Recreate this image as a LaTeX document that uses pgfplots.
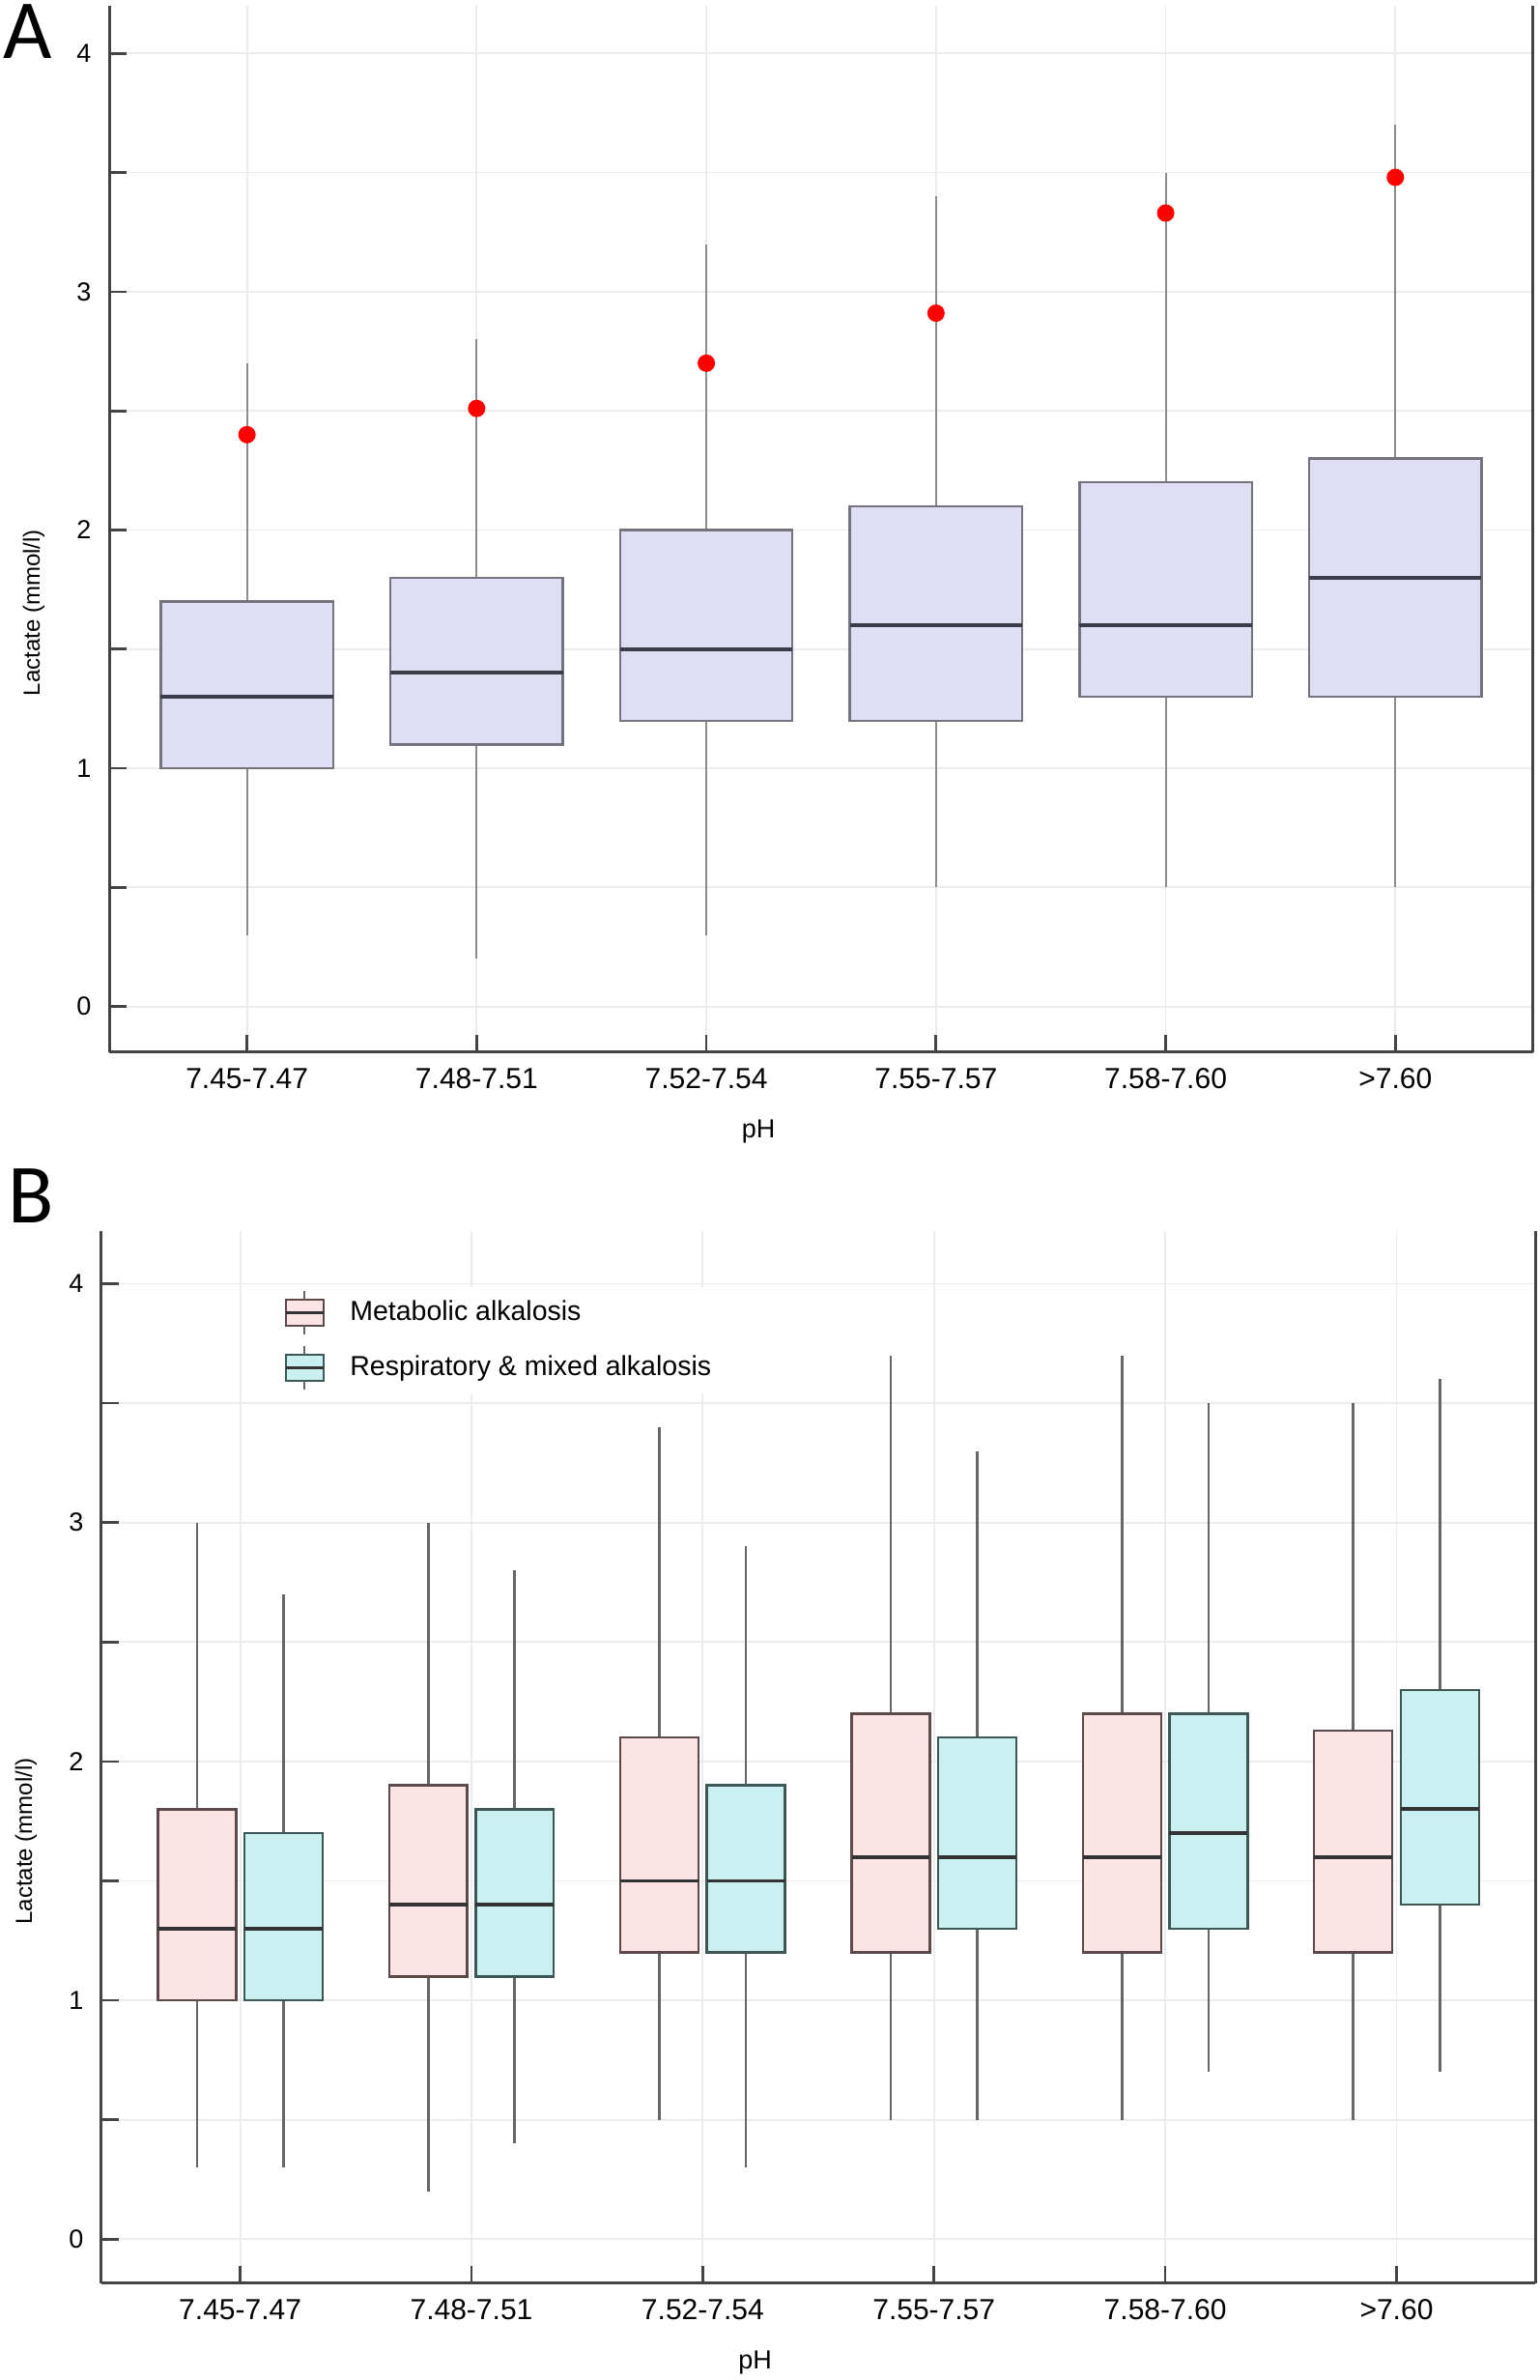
\documentclass[border=0pt]{standalone}
\usepackage{fontspec}
\setmainfont{Liberation Sans}
\newfontfamily\letterfont{Carlito}
\usepackage{pgfplots}
\pgfplotsset{compat=1.18}
\usepgfplotslibrary{statistics}

\definecolor{gridc}{HTML}{ECECEC}
\definecolor{axisc}{HTML}{444444}
\definecolor{lav}{HTML}{E0DEF5}
\definecolor{lavedge}{HTML}{74747E}
\definecolor{whiskA}{HTML}{8C8C8C}
\definecolor{medA}{HTML}{3C3C48}
\definecolor{pinkf}{HTML}{FDE4E4}
\definecolor{pinke}{HTML}{5C4A4A}
\definecolor{cyanf}{HTML}{CBF0F1}
\definecolor{cyane}{HTML}{3D5656}
\definecolor{whiskB}{HTML}{666666}
\definecolor{medB}{HTML}{333333}

\pgfplotsset{
  lacaxis/.style={
    scale only axis,
    xmin=-0.6, xmax=5.6,
    axis x line*=bottom,
    axis y line*=left,
    axis line style={draw=axisc, line width=1pt},
    xtick={0,1,2,3,4,5},
    xticklabels={7.45-7.47,7.48-7.51,7.52-7.54,7.55-7.57,7.58-7.60,>7.60},
    ytick={0,1,2,3,4},
    minor ytick={0.5,1.5,2.5,3.5},
    tick align=inside,
    major tick length=6pt,
    minor tick length=6pt,
    every tick/.style={draw=axisc, line width=0.9pt},
    grid=both,
    major grid style={draw=gridc, line width=0.6pt},
    minor grid style={draw=gridc, line width=0.6pt},
    /pgf/number format/assume math mode=true,
    xticklabel style={font=\fontsize{10}{12}\selectfont, anchor=base, yshift=-12.6pt, inner sep=0pt},
    yticklabel style={font=\fontsize{9}{10}\selectfont, anchor=east, inner sep=0pt, xshift=-6pt},
    xlabel={pH},
    ylabel={Lactate (mmol/l)},
    xlabel style={font=\fontsize{9}{10}\selectfont, at={(axis description cs:0.456,0)}, anchor=base, yshift=-29.5pt},
    ylabel style={font=\fontsize{8}{10}\selectfont, at={(axis description cs:0,0.42)}, anchor=center, yshift=26pt},
    clip=false,
  },
  boxA/.style={
    forget plot, fill=lav, draw=lavedge, line width=0.8pt,
    boxplot/draw direction=y,
    boxplot/box extend=0.75, boxplot/whisker extend=0,
    boxplot/every whisker/.style={draw=whiskA, line width=0.7pt},
    boxplot/every median/.style={draw=medA, line width=1.3pt},
  },
  boxM/.style={
    forget plot, fill=pinkf, draw=pinke, line width=0.8pt,
    boxplot/draw direction=y,
    boxplot/box extend=0.338, boxplot/whisker extend=0,
    boxplot/every whisker/.style={draw=whiskB, line width=0.9pt},
    boxplot/every median/.style={draw=medB, line width=1.3pt},
  },
  boxR/.style={
    forget plot, fill=cyanf, draw=cyane, line width=0.8pt,
    boxplot/draw direction=y,
    boxplot/box extend=0.338, boxplot/whisker extend=0,
    boxplot/every whisker/.style={draw=whiskB, line width=0.9pt},
    boxplot/every median/.style={draw=medB, line width=1.3pt},
  },
}

\begin{document}
\begin{tikzpicture}
\path[use as bounding box] (0,0) rectangle (531.33pt,821pt);

% ---------- panel A ----------
\begin{axis}[lacaxis,
  at={(37.67pt,458pt)}, anchor=south west,
  width=491.3pt, height=361pt,
  ymin=-0.192, ymax=4.2,
  after end axis/.code={\draw[axisc, line width=1pt] (rel axis cs:1,0) -- (rel axis cs:1,1);},
]
\addplot[boxA, boxplot prepared={draw position=0, lower whisker=0.3, lower quartile=1.0, median=1.3, upper quartile=1.7, upper whisker=2.7}] coordinates {};
\addplot[boxA, boxplot prepared={draw position=1, lower whisker=0.2, lower quartile=1.1, median=1.4, upper quartile=1.8, upper whisker=2.8}] coordinates {};
\addplot[boxA, boxplot prepared={draw position=2, lower whisker=0.3, lower quartile=1.2, median=1.5, upper quartile=2.0, upper whisker=3.2}] coordinates {};
\addplot[boxA, boxplot prepared={draw position=3, lower whisker=0.5, lower quartile=1.2, median=1.6, upper quartile=2.1, upper whisker=3.4}] coordinates {};
\addplot[boxA, boxplot prepared={draw position=4, lower whisker=0.5, lower quartile=1.3, median=1.6, upper quartile=2.2, upper whisker=3.5}] coordinates {};
\addplot[boxA, boxplot prepared={draw position=5, lower whisker=0.5, lower quartile=1.3, median=1.8, upper quartile=2.3, upper whisker=3.7}] coordinates {};
% red points
\addplot[only marks, mark=*, mark size=2.8pt, color=red, forget plot] coordinates {
  (0,2.40) (1,2.51) (2,2.70) (3,2.91) (4,3.33) (5,3.48)
};
\end{axis}

% ---------- panel B ----------
\begin{axis}[lacaxis,
  at={(35pt,33.4pt)}, anchor=south west,
  width=494.7pt, height=362.9pt,
  ymin=-0.184, ymax=4.22,
  after end axis/.code={\draw[axisc, line width=1pt] (rel axis cs:1,0) -- (rel axis cs:1,1);},
  legend cell align=left,
  legend style={at={(axis description cs:0.125,1)}, anchor=north west, yshift=-19pt,
    draw=none, fill=white, inner sep=1pt,
    font=\fontsize{9.5}{11}\selectfont, row sep=3.3pt},
]
\addlegendimage{legend image code/.code={
  \draw[fill=pinkf, draw=pinke, line width=0.8pt] (0pt,-4.5pt) rectangle (13pt,4.5pt);
  \draw[medB, line width=1.1pt] (0pt,0pt) -- (13pt,0pt);
  \draw[whiskB, line width=0.8pt] (6.5pt,4.5pt) -- (6.5pt,7.5pt) (6.5pt,-4.5pt) -- (6.5pt,-7.5pt);
  \path (20pt,0pt);}}
\addlegendentry{Metabolic alkalosis}
\addlegendimage{legend image code/.code={
  \draw[fill=cyanf, draw=cyane, line width=0.8pt] (0pt,-4.5pt) rectangle (13pt,4.5pt);
  \draw[medB, line width=1.1pt] (0pt,0pt) -- (13pt,0pt);
  \draw[whiskB, line width=0.8pt] (6.5pt,4.5pt) -- (6.5pt,7.5pt) (6.5pt,-4.5pt) -- (6.5pt,-7.5pt);
  \path (20pt,0pt);}}
\addlegendentry{Respiratory \& mixed alkalosis}

% metabolic alkalosis
\addplot[boxM, boxplot prepared={draw position=-0.187, lower whisker=0.3, lower quartile=1.0, median=1.3, upper quartile=1.8, upper whisker=3.0}] coordinates {};
\addplot[boxM, boxplot prepared={draw position=0.813, lower whisker=0.2, lower quartile=1.1, median=1.4, upper quartile=1.9, upper whisker=3.0}] coordinates {};
\addplot[boxM, boxplot prepared={draw position=1.813, lower whisker=0.5, lower quartile=1.2, median=1.5, upper quartile=2.1, upper whisker=3.4}] coordinates {};
\addplot[boxM, boxplot prepared={draw position=2.813, lower whisker=0.5, lower quartile=1.2, median=1.6, upper quartile=2.2, upper whisker=3.7}] coordinates {};
\addplot[boxM, boxplot prepared={draw position=3.813, lower whisker=0.5, lower quartile=1.2, median=1.6, upper quartile=2.2, upper whisker=3.7}] coordinates {};
\addplot[boxM, boxplot prepared={draw position=4.813, lower whisker=0.5, lower quartile=1.2, median=1.6, upper quartile=2.13, upper whisker=3.5}] coordinates {};
% respiratory & mixed alkalosis
\addplot[boxR, boxplot prepared={draw position=0.187, lower whisker=0.3, lower quartile=1.0, median=1.3, upper quartile=1.7, upper whisker=2.7}] coordinates {};
\addplot[boxR, boxplot prepared={draw position=1.187, lower whisker=0.4, lower quartile=1.1, median=1.4, upper quartile=1.8, upper whisker=2.8}] coordinates {};
\addplot[boxR, boxplot prepared={draw position=2.187, lower whisker=0.3, lower quartile=1.2, median=1.5, upper quartile=1.9, upper whisker=2.9}] coordinates {};
\addplot[boxR, boxplot prepared={draw position=3.187, lower whisker=0.5, lower quartile=1.3, median=1.6, upper quartile=2.1, upper whisker=3.3}] coordinates {};
\addplot[boxR, boxplot prepared={draw position=4.187, lower whisker=0.7, lower quartile=1.3, median=1.7, upper quartile=2.2, upper whisker=3.5}] coordinates {};
\addplot[boxR, boxplot prepared={draw position=5.187, lower whisker=0.7, lower quartile=1.4, median=1.8, upper quartile=2.3, upper whisker=3.6}] coordinates {};
\end{axis}

% panel letters
\node[anchor=north west, inner sep=0pt, font=\letterfont\fontsize{29}{32}\selectfont] at (1pt,819.5pt) {A};
\node[anchor=north west, inner sep=0pt, font=\letterfont\fontsize{29}{32}\selectfont] at (2.5pt,418pt) {B};
\end{tikzpicture}
\end{document}
